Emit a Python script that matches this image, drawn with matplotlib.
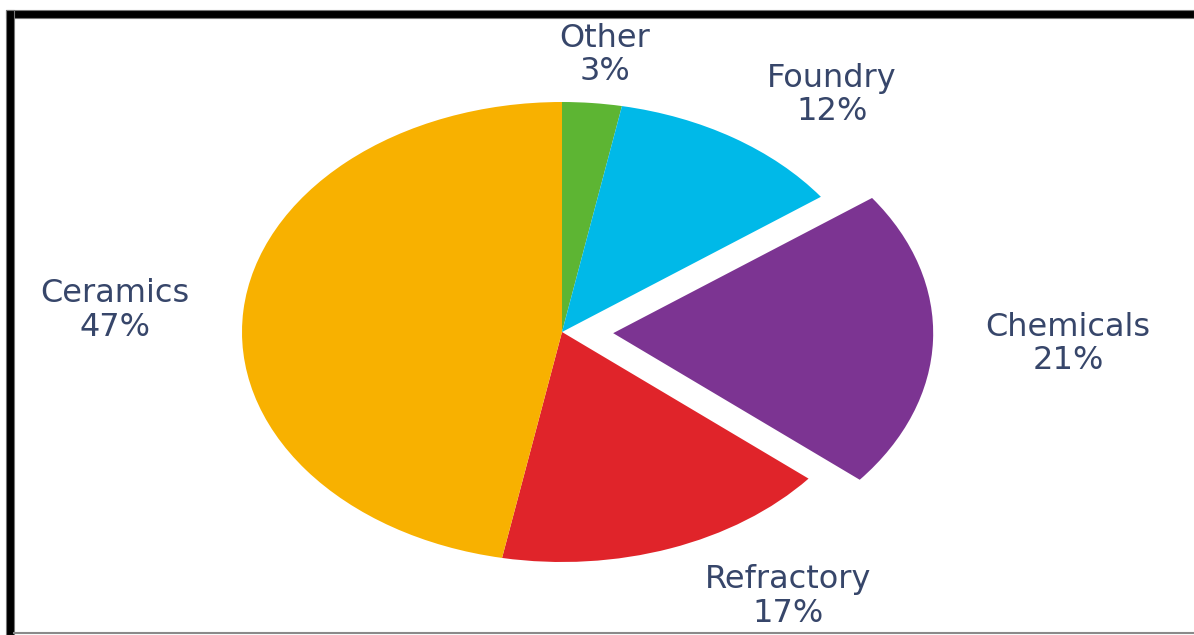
"""Pie chart of end-use shares, with the chemicals slice pulled out."""

import matplotlib
matplotlib.use('Agg')
import matplotlib.pyplot as plt
from matplotlib.patches import Rectangle
from matplotlib.lines import Line2D

categories = ['Other', 'Foundry', 'Chemicals', 'Refractory', 'Ceramics']
shares = [3, 12, 21, 17, 47]
slice_colors = ['#5db533', '#00b9e8', '#7c3492', '#e0242a', '#f8b100']
pulled_out = 'Chemicals'

# label block centres, in axes data units (pie radius = 1)
label_pos = {
    'Other': (0.134, 1.204),
    'Foundry': (0.844, 1.030),
    'Chemicals': (1.581, -0.052),
    'Refractory': (0.706, -1.150),
    'Ceramics': (-1.397, 0.094),
}

W, H = 1194, 635
CX, CY = 562, 332      # pie centre in pixels (from top-left)
RX, RY = 320, 230      # pixels per unit, horizontally / vertically


def main():
    fig = plt.figure(figsize=(W / 100, H / 100), dpi=100)
    fig.patch.set_facecolor('white')
    ax = fig.add_axes([0, 0, 1, 1])

    explode = [0.16 if c == pulled_out else 0 for c in categories]
    ax.pie(shares, colors=slice_colors, startangle=90, counterclock=False,
           explode=explode, radius=1, center=(0, 0),
           wedgeprops=dict(linewidth=0))

    # stretch the pie into a wide ellipse
    ax.set_aspect('auto')
    ax.set_xlim(-CX / RX, (W - CX) / RX)
    ax.set_ylim(-(H - CY) / RY, CY / RY)
    ax.axis('off')

    for cat, val in zip(categories, shares):
        x, y = label_pos[cat]
        ax.text(x, y, f'{cat}\n{val}%', ha='center', va='center',
                fontsize=23, color='#37466a', linespacing=1.1,
                family='DejaVu Sans')

    # frame: thick black bars top and left, thin grey line at the bottom
    def px_rect(x0, y0, x1, y1, **kw):
        fig.add_artist(Rectangle((x0 / W, 1 - y1 / H), (x1 - x0) / W, (y1 - y0) / H,
                                 transform=fig.transFigure, **kw))

    px_rect(6, 10, W, 18, facecolor='black', edgecolor='#777777', linewidth=0.8)
    px_rect(6, 10, 14, H, facecolor='black', edgecolor='#777777', linewidth=0.8)
    fig.add_artist(Line2D([14 / W, 1], [1 - 633 / H, 1 - 633 / H],
                          transform=fig.transFigure, color='#8a8a8a', linewidth=1.5))

    fig.savefig('out.png', dpi=100)


if __name__ == '__main__':
    main()
